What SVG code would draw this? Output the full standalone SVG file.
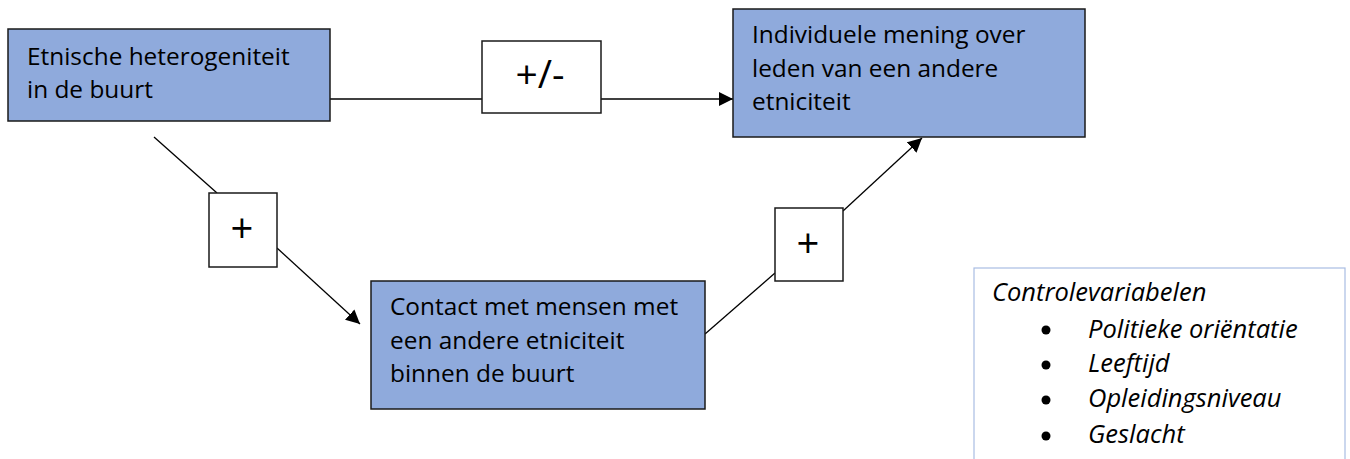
<svg xmlns="http://www.w3.org/2000/svg" width="1350" height="459" viewBox="0 0 1350 459">
<style>
.node{fill:#8faadc;stroke:#1a1a1a;stroke-width:1.5}
.lbl{fill:#fff;stroke:#1a1a1a;stroke-width:1.5}
.t{font-family:"Open Sans",Lato,sans-serif;font-size:24.4px;fill:#000}
.s{font-family:"Open Sans",Lato,sans-serif;fill:#000;text-anchor:middle}
.i{font-family:"Open Sans",Lato,sans-serif;font-size:25.5px;font-style:italic;fill:#000}
.c{stroke:#000;stroke-width:1.3;fill:none}
</style>
<defs>
<marker id="ah" viewBox="0 0 10 10" refX="10" refY="5" markerWidth="14" markerHeight="14" markerUnits="userSpaceOnUse" orient="auto">
<path d="M0,0 L10,5 L0,10 z" fill="#000"/>
</marker>
</defs>
<g id="connectors">
<line class="c" x1="330" y1="99" x2="482" y2="99"/>
<line class="c" x1="601" y1="99" x2="733" y2="99" marker-end="url(#ah)"/>
<line class="c" x1="154" y1="137" x2="217" y2="193"/>
<line class="c" x1="277" y1="248" x2="360" y2="324" marker-end="url(#ah)"/>
<line class="c" x1="705" y1="334" x2="775" y2="273"/>
<line class="c" x1="843" y1="211" x2="922" y2="138" marker-end="url(#ah)"/>
</g>
<g id="n1">
<rect class="node" x="8" y="29" width="322" height="92"/>
<text class="t" x="27" y="65">Etnische heterogeniteit</text>
<text class="t" x="27" y="98">in de buurt</text>
</g>
<g id="n2">
<rect class="node" x="733" y="9" width="352" height="128"/>
<text class="t" x="752" y="43">Individuele mening over</text>
<text class="t" x="752" y="77">leden van een andere</text>
<text class="t" x="752" y="110">etniciteit</text>
</g>
<g id="n3">
<rect class="node" x="371" y="281" width="334" height="128"/>
<text class="t" x="390" y="315">Contact met mensen met</text>
<text class="t" x="390" y="349">een andere etniciteit</text>
<text class="t" x="390" y="382">binnen de buurt</text>
</g>
<g id="l1">
<rect class="lbl" x="482" y="41" width="119" height="72"/>
<text class="s" x="540" y="88" font-size="39">+/-</text>
</g>
<g id="l2">
<rect class="lbl" x="209" y="193" width="68" height="74"/>
<text class="s" x="242" y="243" font-size="40">+</text>
</g>
<g id="l3">
<rect class="lbl" x="775" y="208" width="68" height="73"/>
<text class="s" x="808" y="258" font-size="40">+</text>
</g>
<g id="controls">
<rect x="974" y="268" width="371" height="200" fill="#fff" stroke="#a9bde3" stroke-width="1.2"/>
<text class="i" x="992" y="301">Controlevariabelen</text>
<circle cx="1046" cy="330" r="4.5" fill="#000"/>
<text class="i" x="1088" y="338">Politieke oriëntatie</text>
<circle cx="1046" cy="365" r="4.5" fill="#000"/>
<text class="i" x="1088" y="372">Leeftijd</text>
<circle cx="1046" cy="400" r="4.5" fill="#000"/>
<text class="i" x="1088" y="407">Opleidingsniveau</text>
<circle cx="1046" cy="436" r="4.5" fill="#000"/>
<text class="i" x="1088" y="443">Geslacht</text>
</g>
</svg>
